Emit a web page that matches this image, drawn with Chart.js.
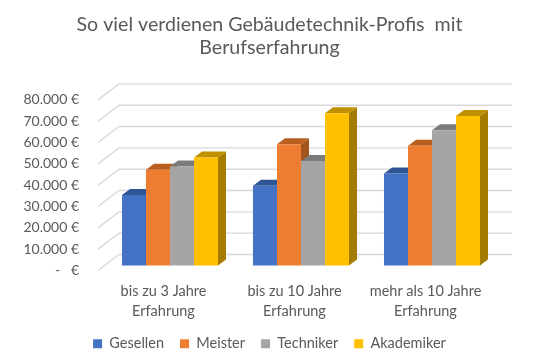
<!DOCTYPE html>
<html>
<head>
<meta charset="utf-8">
<script src="https://cdn.jsdelivr.net/npm/chart.js@4"></script>
<style>
  html, body { margin: 0; padding: 0; background: #fff; }
  canvas { display: block; }
</style>
</head>
<body>
<canvas id="chart" width="539" height="363"></canvas>
<script>
const categories = [["bis zu 3 Jahre", "Erfahrung"], ["bis zu 10 Jahre", "Erfahrung"], ["mehr als 10 Jahre", "Erfahrung"]];
const gesellen = [33000, 37400, 43100];
const meister = [44900, 56900, 56100];
const techniker = [46400, 49000, 63400];
const akademiker = [50600, 71400, 70100];
const titleLines = ["So viel verdienen Gebäudetechnik-Profis  mit", "Berufserfahrung"];

const textColor = "#595959";
const gridColor = "#d9d9d9";

// front, top and side colour of each series
const shades = [
  { front: "#4472c4", top: "#2f5597", side: "#264478" },
  { front: "#ed7d31", top: "#b85f1f", side: "#a3541b" },
  { front: "#a5a5a5", top: "#7b7b7b", side: "#6b6b6b" },
  { front: "#ffc000", top: "#bf9000", side: "#a67c00" }
];

// 3d look: the walls sit behind the front plane, the bars in the middle of the floor
const wallDx = 21, wallDy = -16;
const barShiftX = 6.5, barShiftY = -5;
const depthX = 8, depthY = -6;

const fake3d = {
  id: "fake3d",
  beforeDatasetsDraw(chart) {
    const ctx = chart.ctx;
    const yScale = chart.scales.y;
    const area = chart.chartArea;

    // wall and side lines
    ctx.save();
    ctx.strokeStyle = gridColor;
    ctx.lineWidth = 1.4;
    yScale.ticks.forEach(tick => {
      const y = yScale.getPixelForValue(tick.value);
      ctx.beginPath();
      ctx.moveTo(area.left, y);
      ctx.lineTo(area.left + wallDx, y + wallDy);
      ctx.lineTo(area.right + wallDx, y + wallDy);
      ctx.stroke();
    });
    ctx.restore();

    // move the bars back, this is undone in afterDatasetsDraw
    ctx.save();
    ctx.translate(barShiftX, barShiftY);

    // side and top faces first, the library paints the fronts over them
    chart.data.datasets.forEach((ds, i) => {
      chart.getDatasetMeta(i).data.forEach(bar => {
        const left = bar.x - bar.width / 2;
        const right = bar.x + bar.width / 2;
        ctx.fillStyle = shades[i].side;
        ctx.beginPath();
        ctx.moveTo(right, bar.y);
        ctx.lineTo(right + depthX, bar.y + depthY);
        ctx.lineTo(right + depthX, bar.base + depthY);
        ctx.lineTo(right, bar.base);
        ctx.closePath();
        ctx.fill();
        ctx.fillStyle = shades[i].top;
        ctx.beginPath();
        ctx.moveTo(left, bar.y);
        ctx.lineTo(left + depthX, bar.y + depthY);
        ctx.lineTo(right + depthX, bar.y + depthY);
        ctx.lineTo(right, bar.y);
        ctx.closePath();
        ctx.fill();
      });
    });
  },
  afterDatasetsDraw(chart) {
    chart.ctx.restore();
  }
};

const seriesList = [
  { label: "Gesellen", data: gesellen },
  { label: "Meister", data: meister },
  { label: "Techniker", data: techniker },
  { label: "Akademiker", data: akademiker }
];

new Chart(document.getElementById("chart").getContext("2d"), {
  type: "bar",
  data: {
    labels: categories,
    datasets: seriesList.map((s, i) => ({
      label: s.label,
      data: s.data,
      backgroundColor: shades[i].front,
      borderWidth: 0,
      clip: false,
      barPercentage: 1,
      categoryPercentage: 0.733
    }))
  },
  plugins: [fake3d],
  options: {
    responsive: false,
    animation: false,
    layout: { padding: { bottom: 2 } },
    plugins: {
      tooltip: { enabled: false },
      title: {
        display: true,
        text: titleLines,
        color: textColor,
        font: { family: "Lato", size: 19.6, weight: "normal", lineHeight: 1.17 },
        padding: { top: 13.5, bottom: 40.5 }
      },
      legend: {
        position: "bottom",
        labels: {
          color: textColor,
          font: { family: "Lato", size: 14.5 },
          boxWidth: 9,
          boxHeight: 9,
          padding: 16
        }
      }
    },
    scales: {
      x: {
        afterFit(scale) { scale.height = 50; },
        grid: { display: false },
        border: { display: false },
        ticks: {
          color: textColor,
          font: { family: "Lato", size: 14.5, lineHeight: 1.38 },
          maxRotation: 0,
          padding: 3
        }
      },
      y: {
        min: 0,
        max: 80000,
        afterFit(scale) { scale.width = 98; },
        grid: { display: false },
        border: { display: false },
        ticks: {
          stepSize: 10000,
          color: textColor,
          font: { family: "Lato", size: 14 },
          padding: 11,
          callback: v => v === 0 ? "-   €" : v.toLocaleString("de-DE") + " €"
        }
      },
      // empty axis, keeps the room on the right so title and legend stay centred
      yRight: {
        position: "right",
        afterFit(scale) { scale.width = 48; },
        grid: { display: false },
        border: { display: false },
        ticks: { display: false }
      }
    }
  }
});
</script>
</body>
</html>
